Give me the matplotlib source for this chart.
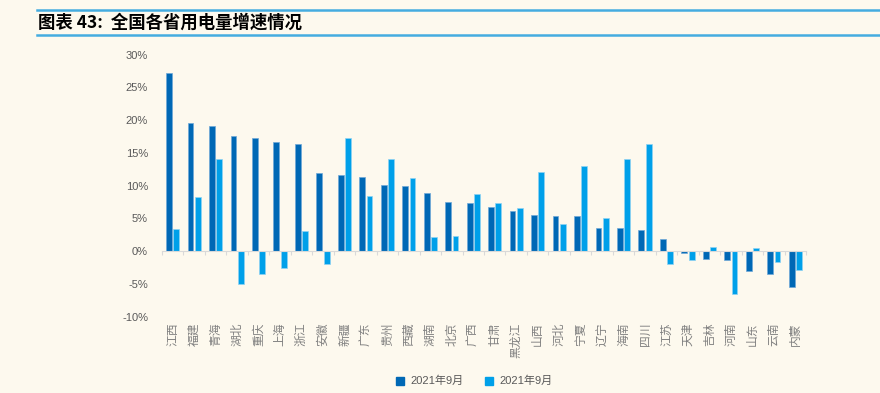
import numpy as np
import matplotlib.pyplot as plt
from matplotlib.lines import Line2D
from matplotlib.transforms import blended_transform_factory

plt.rcParams['font.family'] = ['Liberation Sans', 'Noto Sans CJK SC', 'DejaVu Sans']

# Data
provinces = ['江西', '福建', '青海', '湖北', '重庆', '上海', '浙江', '安徽', '新疆', '广东',
             '贵州', '西藏', '湖南', '北京', '广西', '甘肃', '黑龙江', '山西', '河北', '宁夏',
             '辽宁', '海南', '四川', '江苏', '天津', '吉林', '河南', '山东', '云南', '内蒙']
growth_a = [27.2, 19.5, 19.1, 17.6, 17.3, 16.7, 16.4, 11.9, 11.7, 11.3,
            10.1, 9.9, 8.9, 7.5, 7.3, 6.8, 6.2, 5.6, 5.3, 5.3,
            3.6, 3.6, 3.3, 1.9, -0.25, -1.2, -1.4, -3.0, -3.4, -5.4]
growth_b = [3.4, 8.2, 14.1, -5.0, -3.4, -2.6, 3.1, -1.9, 17.3, 8.4,
            14.0, 11.2, 2.1, 2.3, 8.8, 7.3, 6.6, 12.1, 4.2, 13.0,
            5.1, 14.1, 16.4, -1.9, -1.4, 0.7, -6.6, 0.5, -1.7, -2.8]
series_names = ['2021年9月', '2021年9月']

bg = '#FDF9EE'
dark = '#0068B5'
light = '#00A0E9'
grey = '#595959'

fig = plt.figure(figsize=(8.8, 3.93), dpi=100, facecolor=bg)
ax = fig.add_axes([0.184, 0.194, 0.732, 0.667])
ax.set_facecolor(bg)

x = np.arange(len(provinces))
w = 0.27
ax.bar(x - 0.17, growth_a, w, color=dark, edgecolor='#6FA8D8', linewidth=0.5)
ax.bar(x + 0.17, growth_b, w, color=light, edgecolor='#8FD3F3', linewidth=0.5)

ax.set_xlim(-0.5, len(provinces) - 0.5)
ax.set_ylim(-10, 30)
ax.set_yticks(np.arange(-10, 31, 5))
ax.set_yticklabels([f'{v}%' for v in range(-10, 31, 5)], fontsize=8, color=grey)
ax.tick_params(axis='y', length=0, pad=10)

for s in ['left', 'right', 'top']:
    ax.spines[s].set_visible(False)
ax.spines['bottom'].set_position(('data', 0))
ax.spines['bottom'].set_color('#D9D9D9')
ax.set_xticks(np.arange(len(provinces) + 1) - 0.5)
ax.set_xticklabels([])
ax.tick_params(axis='x', length=3, color='#D9D9D9', direction='out')

# category labels sit under the plot area, rotated to read upward
trans = blended_transform_factory(ax.transData, ax.transAxes)
for i, name in enumerate(provinces):
    ax.text(i, -0.022, name, transform=trans, ha='center', va='top', rotation=90,
            fontsize=8.5, color='#808080',
            family=['Noto Sans CJK SC', 'DejaVu Sans'])

# legend
handles = [Line2D([], [], marker='s', linestyle='', color=dark, markersize=6),
           Line2D([], [], marker='s', linestyle='', color=light, markersize=6)]
leg = fig.legend(handles, series_names, loc='center', bbox_to_anchor=(0.535, 0.03),
                 ncol=2, frameon=False, handletextpad=0.0, columnspacing=1.2,
                 prop={'family': ['Liberation Sans', 'Noto Sans CJK SC'], 'size': 8})
for t in leg.get_texts():
    t.set_color(grey)

# title with blue rules
fig.add_artist(Line2D([0.042, 1.0], [0.974, 0.974], color='#45ACE0', lw=1.8))
fig.add_artist(Line2D([0.042, 1.0], [0.911, 0.911], color='#45ACE0', lw=1.8))
fig.text(0.043, 0.943, '图表 43:  全国各省用电量增速情况', fontsize=12.5, fontweight='bold',
         style='italic', va='center', ha='left', color='black',
         family=['Noto Sans CJK SC', 'DejaVu Sans'])

fig.savefig('out.png', dpi=100, facecolor=bg)
